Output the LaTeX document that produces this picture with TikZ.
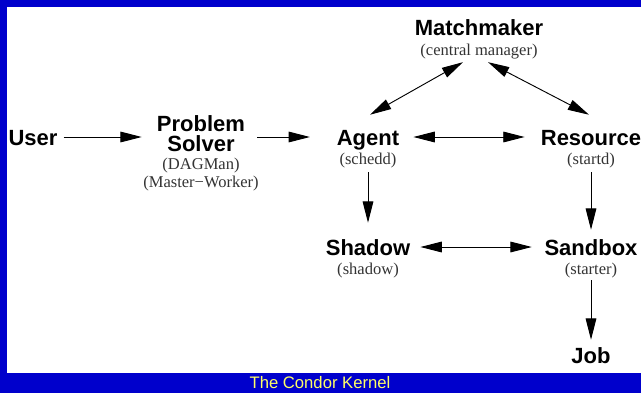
\documentclass[tikz,border=0pt]{standalone}
\usepackage{fontspec}
\usetikzlibrary{arrows.meta}
\newfontfamily\namefont{Liberation Sans}
\newfontfamily\procfont{Liberation Serif}
\definecolor{slideblue}{RGB}{0,0,204}
\definecolor{captionyellow}{RGB}{255,255,102}

\begin{document}
\begin{tikzpicture}[x=0.75pt, y=-0.75pt,
  every node/.style={inner sep=0pt},
  heading/.style={font=\namefont\bfseries\fontsize{16.5}{15}\selectfont},
  part/.style={heading, text height=12pt, text depth=0pt},
  daemon/.style={font=\procfont\fontsize{12.4}{14}\selectfont, text=black!80, anchor=base},
  link/.style={-{Triangle[length=16pt, width=8pt]}, line width=0.7pt},
  twoway/.style={{Triangle[length=16pt, width=8pt]}-{Triangle[length=16pt, width=8pt]}, line width=0.7pt}]
\useasboundingbox (0,0) rectangle (641,393);
\fill[slideblue] (0,0) rectangle (641,393);
\fill[white] (7,7) rectangle (641,373);

\node[part] (user) at (33,137) {User};
\node[heading, align=center] (solver) at (201,134) {Problem\\Solver};
\node[daemon] (dagman) at (201,169) {(DAGMan)};
\node[daemon] (masterworker) at (201,187) {(Master−Worker)};
\node[part] (matchmaker) at (479,27) {Matchmaker};
\node[daemon] (central) at (479,55) {(central manager)};
\node[part] (agent) at (368,137) {Agent};
\node[daemon] (schedd) at (368,164) {(schedd)};
\node[part] (resource) at (591,137) {Resource};
\node[daemon] (startd) at (591,164) {(startd)};
\node[part] (shadow) at (368,247) {Shadow};
\node[daemon] (shadowd) at (368,274) {(shadow)};
\node[part] (sandbox) at (591,247) {Sandbox};
\node[daemon] (starter) at (591,274) {(starter)};
\node[part] (job) at (591,355) {Job};
\node[font=\namefont\fontsize{12.5}{14}\selectfont, text=captionyellow] (caption) at (320,383) {The Condor Kernel};

\draw[link, shorten <=4.5pt, shorten >=11.25pt] (user) -- (user -| solver.west);
\draw[link, shorten <=9pt, shorten >=20pt] (solver.east |- agent) -- (agent);
\draw[twoway, shorten <=10.5pt, shorten >=12pt] (agent) -- (resource);
\draw[twoway] ([xshift=-12pt, yshift=-2.5pt]central.south) -- ([xshift=1.5pt, yshift=10.5pt]agent.north);
\draw[twoway] ([xshift=6.75pt, yshift=-2.5pt]central.south) -- ([xshift=-1.5pt, yshift=10.5pt]resource.north);
\draw[link, shorten <=3.4pt, shorten >=12pt] (schedd) -- (shadow);
\draw[link, shorten <=3.4pt, shorten >=6.75pt] (startd) -- (sandbox);
\draw[twoway, shorten <=7.5pt, shorten >=9.4pt] (shadow) -- (sandbox);
\draw[link, shorten <=1.9pt, shorten >=5.25pt] (starter) -- (job);
\end{tikzpicture}
\end{document}
